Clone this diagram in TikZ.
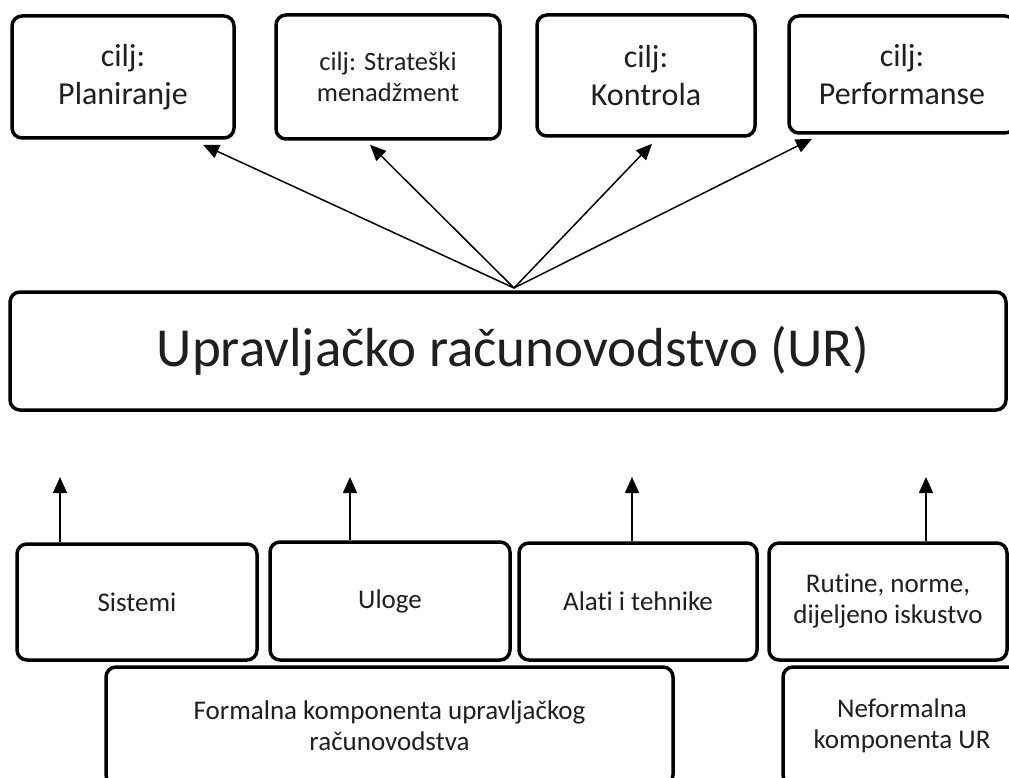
\documentclass[tikz,border=0pt]{standalone}
\usepackage{fontspec}
\setmainfont{Carlito}[Ligatures=NoCommon]
\usetikzlibrary{arrows.meta,calc}
\begin{document}
\begin{tikzpicture}[x=1pt,y=-1pt,
  box/.style={draw=black, line width=3.5pt, rounded corners=10pt, inner sep=0pt,
              align=center, fill=white, text=black!88},
  topfont/.style={font=\fontsize{32}{38}\selectfont},
  smallfont/.style={font=\fontsize{26.5}{31}\selectfont},
  botfont/.style={font=\fontsize{27}{31}\selectfont},
  arr/.style={line width=1.5pt, -{Triangle[width=14pt,length=16pt]}},
]
\useasboundingbox (0,0) rectangle (1009,778);
\clip (0,0) rectangle (1009,778);

% top goal boxes
\node[box, topfont, minimum width=222pt, minimum height=122pt] (plan) at (123,77) {cilj:\\Planiranje};
\node[box, smallfont, minimum width=224pt, minimum height=124pt] (strat) at (388,77) {cilj: Strateški\\menadžment};
\node[box, topfont, minimum width=218pt, minimum height=121pt] (kontr) at (646,75.5) {cilj:\\Kontrola};
\node[box, topfont, minimum width=226pt, minimum height=117pt] (perf) at (902,74.5) {cilj:\\Performanse};

% main box
\node[box, font=\fontsize{55}{60}\selectfont, minimum width=996pt, minimum height=118pt] (ur) at (508,351) {\hspace*{10pt}Upravljačko računovodstvo (UR)};

% bottom component boxes
\node[box, botfont, minimum width=240pt, minimum height=116pt] (sis) at (137,602) {Sistemi};
\node[box, botfont, minimum width=240pt, minimum height=118pt] (ulo) at (390,601) {Uloge};
\node[box, botfont, minimum width=238pt, minimum height=117pt] (alat) at (638,601.5) {Alati i tehnike};
\node[box, botfont, minimum width=238pt, minimum height=117pt] (rut) at (888,601.5) {Rutine, norme,\\dijeljeno iskustvo};
\node[box, botfont, minimum width=567pt, minimum height=118pt] (form) at (389.5,726) {Formalna komponenta upravljačkog\\računovodstva};
\node[box, botfont, minimum width=238pt, minimum height=118pt] (nef) at (902,726) {Neformalna\\komponenta UR};

% arrows from main box to goals
\coordinate (hub) at (514,288);
\draw[arr] (hub) -- ($(plan.south)+(80,5)$);
\draw[arr] (hub) -- ($(strat.south)+(-18,4)$);
\draw[arr] (hub) -- ($(kontr.south)+(6,6)$);
\draw[arr] (hub) -- ($(perf.south)+(-90,4)$);

% arrows up from components
\coordinate (u1) at (60,477);
\coordinate (u2) at (350,477);
\coordinate (u3) at (632,477);
\coordinate (u4) at (926,477);
\draw[arr] (sis.north -| u1) -- (u1);
\draw[arr] (ulo.north -| u2) -- (u2);
\draw[arr] (alat.north -| u3) -- (u3);
\draw[arr] (rut.north -| u4) -- (u4);
\end{tikzpicture}
\end{document}
